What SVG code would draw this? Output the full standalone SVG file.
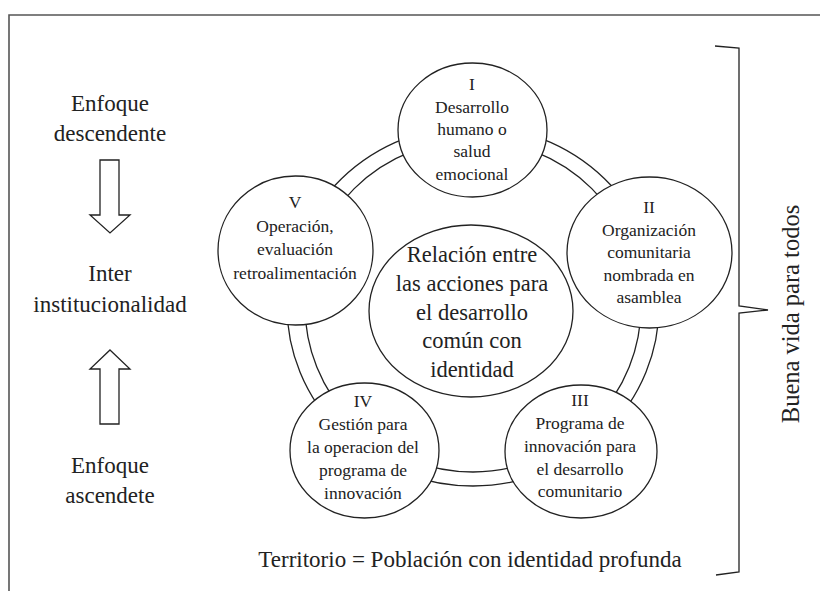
<svg xmlns="http://www.w3.org/2000/svg" width="820" height="591" viewBox="0 0 820 591">
<style>
text{fill:#222;text-anchor:middle}
.big{font-size:23px}
.vert{font-size:24.5px}
.mid{font-size:22.5px}
.sm{font-size:17.5px}
.ln{fill:none;stroke:#222;stroke-width:1.3}
.nd{fill:#fff;stroke:#222;stroke-width:1.3}
.arr{fill:#fff;stroke:#222;stroke-width:1.3;stroke-linejoin:miter}
</style>
<rect width="820" height="591" fill="#fff"/>
<g id="frame">
<path d="M9,591 L9,15 L820,15" fill="none" stroke="#555" stroke-width="1.6"/>
</g>
<g id="connectors">
<ellipse class="ln" cx="473" cy="306" rx="186" ry="180"/>
<ellipse class="ln" cx="473" cy="306" rx="168" ry="166"/>
</g>
<g font-family="'Liberation Serif', 'DejaVu Serif', serif">
<g id="left-labels">
<text class="big" x="110" y="111">Enfoque</text>
<text class="big" x="110" y="141">descendente</text>
<polygon class="arr" points="100,160 119,160 119,215 130,215 110,233 90,215 100,215"/>
<text class="big" x="110" y="281">Inter</text>
<text class="big" x="110" y="312">institucionalidad</text>
<polygon class="arr" points="110,350 130,369 119,369 119,424 100,424 100,369 90,369"/>
<text class="big" x="110" y="473">Enfoque</text>
<text class="big" x="110" y="503">ascendete</text>
</g>
<g id="node-center">
<ellipse class="nd" cx="471" cy="311" rx="102" ry="86"/>
<text class="mid" x="472" y="262">Relación entre</text>
<text class="mid" x="472" y="291">las acciones para</text>
<text class="mid" x="472" y="320">el desarrollo</text>
<text class="mid" x="472" y="348">común con</text>
<text class="mid" x="472" y="377">identidad</text>
</g>
<g id="node-I">
<ellipse class="nd" cx="472.5" cy="130" rx="74.5" ry="67"/>
<text class="sm" x="472" y="90">I</text>
<text class="sm" x="472" y="113">Desarrollo</text>
<text class="sm" x="472" y="135">humano o</text>
<text class="sm" x="472" y="157">salud</text>
<text class="sm" x="472" y="180">emocional</text>
</g>
<g id="node-II">
<ellipse class="nd" cx="649.5" cy="252.5" rx="82.5" ry="75.5"/>
<text class="sm" x="649" y="213">II</text>
<text class="sm" x="649" y="236">Organización</text>
<text class="sm" x="649" y="258">comunitaria</text>
<text class="sm" x="649" y="281">nombrada en</text>
<text class="sm" x="649" y="303">asamblea</text>
</g>
<g id="node-III">
<ellipse class="nd" cx="581" cy="451.5" rx="76" ry="66.5"/>
<text class="sm" x="580" y="406">III</text>
<text class="sm" x="580" y="429">Programa de</text>
<text class="sm" x="580" y="452">innovación para</text>
<text class="sm" x="580" y="475">el desarrollo</text>
<text class="sm" x="580" y="497">comunitario</text>
</g>
<g id="node-IV">
<ellipse class="nd" cx="364.5" cy="450.5" rx="74.5" ry="67.5"/>
<text class="sm" x="363" y="407">IV</text>
<text class="sm" x="363" y="430">Gestión para</text>
<text class="sm" x="363" y="453">la operacion del</text>
<text class="sm" x="363" y="476">programa de</text>
<text class="sm" x="363" y="499">innovación</text>
</g>
<g id="node-V">
<ellipse class="nd" cx="295.5" cy="250.5" rx="77.5" ry="74.5"/>
<text class="sm" x="295" y="208">V</text>
<text class="sm" x="295" y="232">Operación,</text>
<text class="sm" x="295" y="255">evaluación</text>
<text class="sm" x="295" y="279">retroalimentación</text>
</g>
<g id="bottom-label">
<text class="big" x="470" y="567">Territorio = Población con identidad profunda</text>
</g>
<g id="brace">
<path class="ln" d="M715,46 L739,48 L739,306 L768,310 L739,313 L739,572 L716,575"/>
<text class="vert" transform="translate(799,314) rotate(-90)">Buena vida para todos</text>
</g>
</g>
</svg>
